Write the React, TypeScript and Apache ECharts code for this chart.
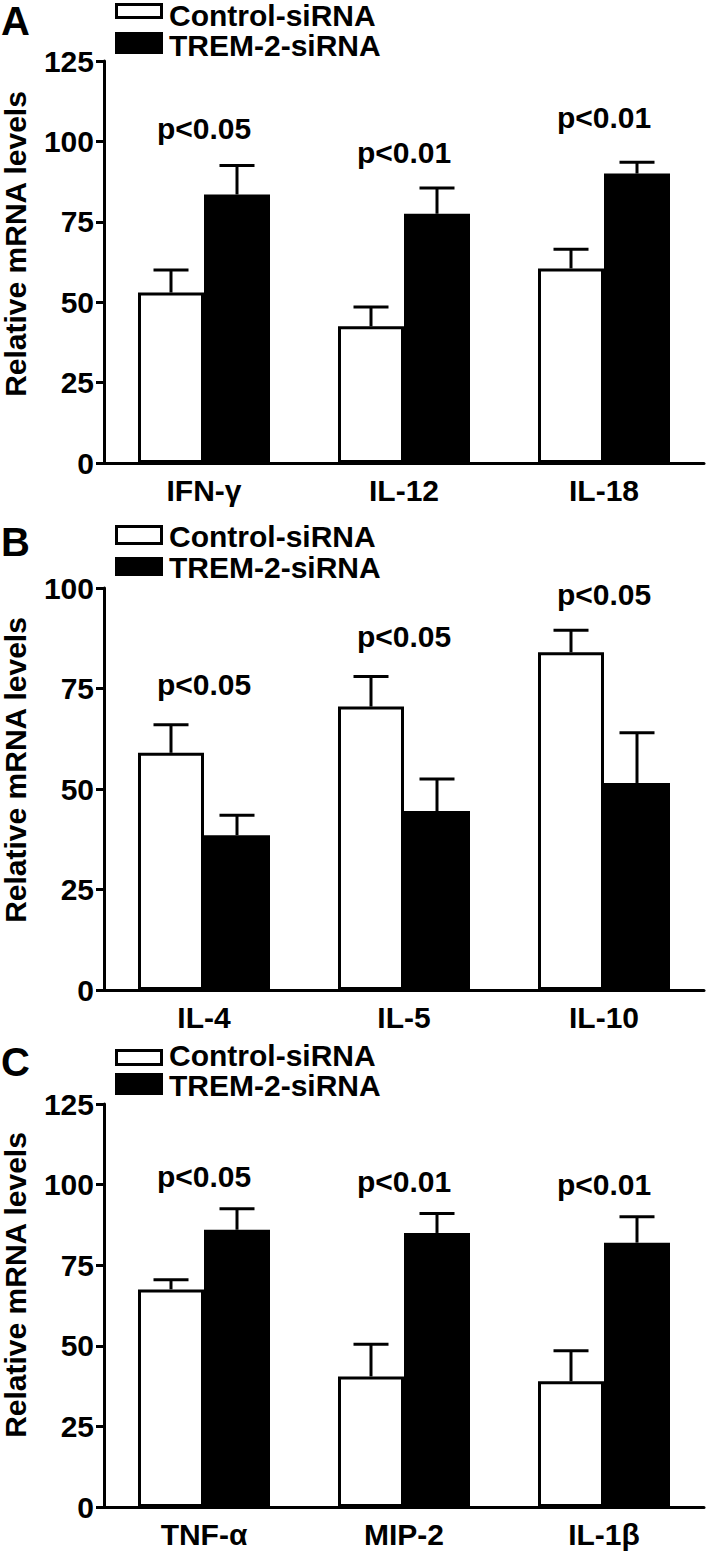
import React, { useEffect, useRef } from "react";
import * as echarts from "echarts";

// ---------- data ----------
const categoriesA = ["IFN-γ", "IL-12", "IL-18"];
const controlA = [53, 42.5, 60.5];
const controlErrA = [7, 6, 6];
const tremA = [83.5, 77.5, 90];
const tremErrA = [9, 8, 3.5];
const pTextA = ["p<0.05", "p<0.01", "p<0.01"];
const pAtA = [104, 96.5, 107.5];

const categoriesB = ["IL-4", "IL-5", "IL-10"];
const controlB = [59, 70.5, 84];
const controlErrB = [7, 7.5, 5.5];
const tremB = [38.5, 44.5, 51.5];
const tremErrB = [5, 8, 12.5];
const pTextB = ["p<0.05", "p<0.05", "p<0.05"];
const pAtB = [76, 88, 98.5];

const categoriesC = ["TNF-α", "MIP-2", "IL-1β"];
const controlC = [67.5, 40.5, 39];
const controlErrC = [3, 10, 9.5];
const tremC = [86, 85, 82];
const tremErrC = [6.5, 6, 8];
const pTextC = ["p<0.05", "p<0.01", "p<0.01"];
const pAtC = [102.5, 101, 100];

const yMaxA = 125;
const yMaxB = 100;
const yMaxC = 125;
const yInterval = 25;

const seriesNames = ["Control-siRNA", "TREM-2-siRNA"];
const yTitle = "Relative mRNA levels";
const panelLetters = ["A", "B", "C"];

// ---------- style ----------
const FONT = "'Liberation Sans', Arial, Helvetica, sans-serif";
const BAR_W = 66;
const CAP_W = 35;
const LW = 3;

type Panel = {
  cats: string[];
  ctrl: number[];
  ctrlErr: number[];
  trem: number[];
  tremErr: number[];
  pText: string[];
  pAt: number[];
  yMax: number;
  top: number;
  height: number;
  letterY: number;
  titleY: number;
  legendBoxes: [number, number, number, number];
  legendTextY: [number, number];
};

const panels: Panel[] = [
  {
    cats: categoriesA, ctrl: controlA, ctrlErr: controlErrA, trem: tremA, tremErr: tremErrA,
    pText: pTextA, pAt: pAtA, yMax: yMaxA, top: 61, height: 402, letterY: 21, titleY: 244,
    legendBoxes: [3, 19, 32, 54], legendTextY: [15, 45],
  },
  {
    cats: categoriesB, ctrl: controlB, ctrlErr: controlErrB, trem: tremB, tremErr: tremErrB,
    pText: pTextB, pAt: pAtB, yMax: yMaxB, top: 588, height: 402, letterY: 542, titleY: 770,
    legendBoxes: [525, 545, 557, 576], legendTextY: [536, 567],
  },
  {
    cats: categoriesC, ctrl: controlC, ctrlErr: controlErrC, trem: tremC, tremErr: tremErrC,
    pText: pTextC, pAt: pAtC, yMax: yMaxC, top: 1104, height: 403, letterY: 1062, titleY: 1285,
    legendBoxes: [1049, 1066, 1073, 1095], legendTextY: [1055, 1085],
  },
];

function errorRenderer(side: number) {
  return (params: any, api: any) => {
    const cat = api.value(0);
    const v = api.value(1);
    const e = api.value(2);
    const base = api.coord([cat, v]);
    const top = api.coord([cat, v + e]);
    const x = base[0] + (side * BAR_W) / 2;
    return {
      type: "group",
      children: [
        {
          type: "line",
          shape: { x1: x, y1: base[1], x2: x, y2: top[1] },
          style: { stroke: "#000", lineWidth: LW },
        },
        {
          type: "line",
          shape: { x1: x - CAP_W / 2, y1: top[1], x2: x + CAP_W / 2, y2: top[1] },
          style: { stroke: "#000", lineWidth: LW },
        },
      ],
    };
  };
}

function pRenderer(texts: string[]) {
  return (params: any, api: any) => {
    const cat = api.value(0);
    const v = api.value(1);
    const pt = api.coord([cat, v]);
    return {
      type: "text",
      x: pt[0],
      y: pt[1],
      style: {
        text: texts[params.dataIndex],
        fontSize: 30,
        lineHeight: 26,
        fontWeight: "bold",
        fontFamily: FONT,
        fill: "#000",
        align: "center",
        verticalAlign: "middle",
      },
    };
  };
}

function txt(text: string, x: number, y: number, size: number, extra: any = {}) {
  return {
    type: "text",
    x,
    y,
    ...extra,
    style: {
      text,
      fontSize: size,
      lineHeight: Math.round(size * 0.82),
      fontWeight: "bold",
      fontFamily: FONT,
      fill: "#000",
      align: extra.align || "left",
      verticalAlign: "middle",
    },
  };
}

function buildOption() {
  const grid: any[] = [];
  const xAxis: any[] = [];
  const yAxis: any[] = [];
  const series: any[] = [];
  const graphic: any[] = [];

  panels.forEach((p, i) => {
    grid.push({ left: 104, right: 4, top: p.top, height: p.height, containLabel: false });
    xAxis.push({
      type: "category",
      gridIndex: i,
      data: p.cats,
      axisLine: { show: true, lineStyle: { color: "#000", width: LW } },
      axisTick: { show: false },
      axisLabel: {
        color: "#000",
        fontSize: 30,
        fontWeight: "bold",
        fontFamily: FONT,
        margin: 12,
      },
      splitLine: { show: false },
    });
    yAxis.push({
      type: "value",
      gridIndex: i,
      min: 0,
      max: p.yMax,
      interval: yInterval,
      axisLine: { show: true, lineStyle: { color: "#000", width: LW } },
      axisTick: { show: true, length: 8, lineStyle: { color: "#000", width: LW } },
      axisLabel: {
        color: "#000",
        fontSize: 30,
        fontWeight: "bold",
        fontFamily: FONT,
        margin: 10,
      },
      splitLine: { show: false },
    });

    series.push({
      name: seriesNames[0],
      type: "bar",
      xAxisIndex: i,
      yAxisIndex: i,
      data: p.ctrl,
      barWidth: BAR_W,
      barGap: "0%",
      itemStyle: { color: "#fff", borderColor: "#000", borderWidth: LW },
      z: 2,
    });
    series.push({
      name: seriesNames[1],
      type: "bar",
      xAxisIndex: i,
      yAxisIndex: i,
      data: p.trem,
      barWidth: BAR_W,
      barGap: "0%",
      itemStyle: { color: "#000", borderColor: "#000", borderWidth: LW },
      z: 2,
    });
    series.push({
      type: "custom",
      name: seriesNames[0] + " error",
      xAxisIndex: i,
      yAxisIndex: i,
      data: p.ctrl.map((v, k) => [k, v, p.ctrlErr[k]]),
      renderItem: errorRenderer(-1),
      z: 3,
    });
    series.push({
      type: "custom",
      name: seriesNames[1] + " error",
      xAxisIndex: i,
      yAxisIndex: i,
      data: p.trem.map((v, k) => [k, v, p.tremErr[k]]),
      renderItem: errorRenderer(1),
      z: 3,
    });
    series.push({
      type: "custom",
      name: "p-values",
      xAxisIndex: i,
      yAxisIndex: i,
      data: p.pAt.map((v, k) => [k, v]),
      renderItem: pRenderer(p.pText),
      z: 4,
    });

    graphic.push(txt(panelLetters[i], 1, p.letterY, 40));
    graphic.push(txt(yTitle, 15, p.titleY, 30, { rotation: Math.PI / 2, align: "center" }));

    const [wt, wb, bt, bb] = p.legendBoxes;
    graphic.push({
      type: "rect",
      shape: { x: 116.5, y: wt + 1.5, width: 45, height: wb - wt - 3 },
      style: { fill: "#fff", stroke: "#000", lineWidth: LW },
    });
    graphic.push({
      type: "rect",
      shape: { x: 115, y: bt, width: 48, height: bb - bt },
      style: { fill: "#000" },
    });
    graphic.push(txt(seriesNames[0], 169, p.legendTextY[0], 30));
    graphic.push(txt(seriesNames[1], 169, p.legendTextY[1], 30));
  });

  return {
    animation: false,
    backgroundColor: "#fff",
    grid,
    xAxis,
    yAxis,
    series,
    graphic,
  };
}

export default function App() {
  const ref = useRef<HTMLDivElement>(null);
  useEffect(() => {
    document.body.style.margin = "0";
    if (!ref.current) return;
    const chart = echarts.init(ref.current, null, { renderer: "svg" });
    chart.setOption(buildOption() as any);
    return () => {
      chart.dispose();
    };
  }, []);
  return <div ref={ref} style={{ width: 708, height: 1554, background: "#fff" }} />;
}
